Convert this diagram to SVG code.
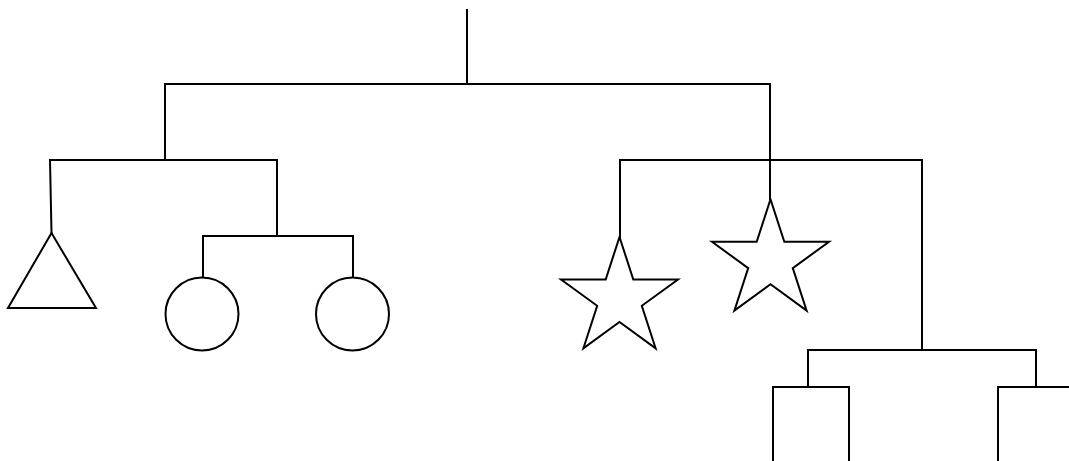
<svg xmlns="http://www.w3.org/2000/svg" width="1069" height="461" viewBox="0 0 1069 461">
<style>
.c{fill:none;stroke:#000;stroke-width:2;stroke-linecap:square;stroke-linejoin:miter}
.n{fill:#fff;stroke:#000;stroke-width:2;stroke-linejoin:miter}
</style>
<defs>
<polygon id="star" points="0,-61.5 13.8,-19 58.5,-19 22.3,7.3 36.1,49.8 0,23.5 -36.1,49.8 -22.3,7.3 -58.5,-19 -13.8,-19"/>
</defs>
<rect width="1069" height="461" fill="#fff"/>
<g id="connectors" class="c">
<path d="M467,10 V84 M165,84 H770 M165,84 V160 M50,160 H277 M50,160 L51.5,233 M277,160 V236 M203,236 H353 M203,236 V277 M353,236 V277"/>
<path d="M620,160 H922 M620,160 V237 M770,84 V199 M922,160 V350 M808,350 H1036 M808,350 V387 M1036,350 V387"/>
</g>
<g id="triangle"><polygon class="n" points="51.5,233 96,308 8,308"/></g>
<g id="circle1"><circle class="n" cx="202" cy="314" r="36.5"/></g>
<g id="circle2"><circle class="n" cx="352.5" cy="314" r="36.5"/></g>
<g id="star1"><use href="#star" class="n" transform="translate(619.5,298.5)"/></g>
<g id="star2"><use href="#star" class="n" transform="translate(770.5,260.8)"/></g>
<g id="rect1"><path class="n" d="M773,470 V387 H849 V470"/></g>
<g id="rect2"><path class="n" d="M998,470 V387 H1080"/></g>
</svg>
